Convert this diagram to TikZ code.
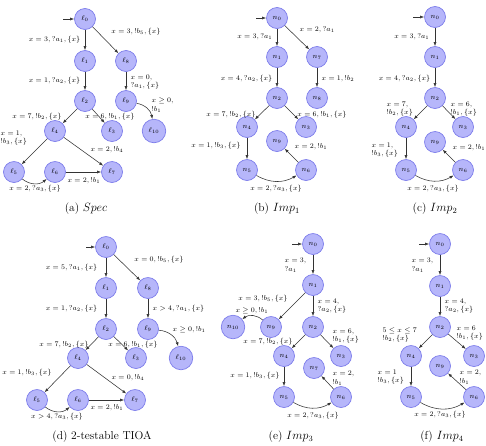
\documentclass[tikz,border=0pt]{standalone}
\usepackage{amssymb}
\usetikzlibrary{arrows.meta}
\begin{document}
\begin{tikzpicture}[x=1pt,y=-1pt,
  st/.style={circle, draw={rgb,255:red,125;green,125;blue,235}, fill={rgb,255:red,182;green,182;blue,250}, line width=0.7pt, minimum size=21pt, inner sep=0.5pt, font=\scriptsize},
  wide/.style={minimum size=23.5pt},
  tr/.style={-{Latex[length=4pt,width=3pt]}, line width=0.55pt, draw=black!80},
  lb/.style={font=\fontsize{7.5}{8.5}\selectfont, inner sep=0.5pt, align=left},
  captxt/.style={font=\fontsize{11.5}{13}\selectfont, inner sep=0pt}]
\useasboundingbox (0,0) rectangle (486,445);

% ---------- (a) Spec ----------
\node[st] (a0) at (85,19) {$\ell_0$};
\node[st] (a1) at (85,61) {$\ell_1$};
\node[st] (a8) at (126,61) {$\ell_8$};
\node[st] (a2) at (85,101) {$\ell_2$};
\node[st] (a9) at (126,101) {$\ell_9$};
\node[st] (a4) at (55,131) {$\ell_4$};
\node[st] (a3) at (112,131) {$\ell_3$};
\node[st, wide] (a10) at (154,131) {$\ell_{10}$};
\node[st] (a5) at (14,172) {$\ell_5$};
\node[st] (a6) at (55,172) {$\ell_6$};
\node[st] (a7) at (112,172) {$\ell_7$};
\coordinate (ai) at (63,19);
\draw[tr] (ai) -- (a0);
\draw[tr] (a0) -- (a1);
\draw[tr] (a0) -- (a8);
\draw[tr] (a1) -- (a2);
\draw[tr] (a8) -- (a9);
\draw[tr] (a9) to[bend left=35] (a10);
\draw[tr] (a2) -- (a4);
\draw[tr] (a2) -- (a3);
\draw[tr] (a4) -- (a5);
\draw[tr] (a4) -- (a7);
\draw[tr] (a5) to[bend right=40] (a6);
\draw[tr] (a6) -- (a7);
\node[lb, anchor=east] (la01) at (81,40) {$x=3,?a_1,\{x\}$};
\node[lb] (la08) at (136,32) {$x=3,!b_5,\{x\}$};
\node[lb, anchor=east] (la12) at (81,81) {$x=1,?a_2,\{x\}$};
\node[lb, anchor=west] (la89) at (130,82) {$x=0,$\\$?a_1,\{x\}$};
\node[lb, anchor=west] (la910) at (151,105) {$x\geq 0,$\\$!b_1$};
\node[lb] (la24) at (37,117) {$x=7,!b_2,\{x\}$};
\node[lb] (la23) at (110,117) {$x=6,!b_1,\{x\}$};
\node[lb, anchor=west] (la45) at (0,138) {$x=1,$\\$!b_3,\{x\}$};
\node[lb] (la47) at (107,150) {$x=2,!b_4$};
\node[lb] (la56) at (35,189) {$x=2,?a_3,\{x\}$};
\node[lb] (la67) at (84,181) {$x=2,!b_1$};
\node[captxt] (capa) at (86,209) {(a) $Spec$};

% ---------- (b) Imp1 ----------
\node[st] (b0) at (277,18) {$n_0$};
\node[st] (b1) at (277,57) {$n_1$};
\node[st] (b7) at (317,57) {$n_7$};
\node[st] (b2) at (277,98) {$n_2$};
\node[st] (b8) at (317,98) {$n_8$};
\node[st] (b4) at (247,127) {$n_4$};
\node[st] (b3) at (306,127) {$n_3$};
\node[st] (b9) at (277,141) {$n_9$};
\node[st] (b5) at (247,170) {$n_5$};
\node[st] (b6) at (306,170) {$n_6$};
\coordinate (bi) at (256,18);
\draw[tr] (bi) -- (b0);
\draw[tr] (b0) -- (b1);
\draw[tr] (b0) -- (b7);
\draw[tr] (b1) -- (b2);
\draw[tr] (b7) -- (b8);
\draw[tr] (b2) -- (b4);
\draw[tr] (b2) -- (b3);
\draw[tr] (b4) -- (b5);
\draw[tr] (b5) to[bend right=30] (b6);
\draw[tr] (b6) -- (b9);
\node[lb, anchor=east] (lb01) at (273,37) {$x=3,?a_1$};
\node[lb, anchor=west] (lb07) at (299,30) {$x=2,?a_1$};
\node[lb, anchor=east] (lb12) at (273,79) {$x=4,?a_2,\{x\}$};
\node[lb, anchor=west] (lb78) at (321,79) {$x=1,!b_2$};
\node[lb] (lb24) at (231,115) {$x=7,!b_2,\{x\}$};
\node[lb] (lb23) at (322,115) {$x=6,!b_1,\{x\}$};
\node[lb] (lb45) at (216,146) {$x=1,!b_3,\{x\}$};
\node[lb, anchor=west] (lb69) at (294,147) {$x=2,!b_1$};
\node[lb] (lb56) at (276,189) {$x=2,?a_3,\{x\}$};
\node[captxt] (capb) at (277,209) {(b) $Imp_1$};

% ---------- (c) Imp2 ----------
\node[st] (c0) at (435,17) {$n_0$};
\node[st] (c1) at (435,57) {$n_1$};
\node[st] (c2) at (435,98) {$n_2$};
\node[st] (c4) at (406,127) {$n_4$};
\node[st] (c3) at (463,127) {$n_3$};
\node[st] (c9) at (435,142) {$n_9$};
\node[st] (c5) at (406,170) {$n_5$};
\node[st] (c6) at (463,170) {$n_6$};
\coordinate (ci) at (413,17);
\draw[tr] (ci) -- (c0);
\draw[tr] (c0) -- (c1);
\draw[tr] (c1) -- (c2);
\draw[tr] (c2) -- (c4);
\draw[tr] (c2) -- (c3);
\draw[tr] (c4) -- (c5);
\draw[tr] (c5) to[bend right=30] (c6);
\draw[tr] (c6) -- (c9);
\node[lb, anchor=east] (lc01) at (430,37) {$x=3,?a_1$};
\node[lb, anchor=east] (lc12) at (431,79) {$x=4,?a_2,\{x\}$};
\node[lb, anchor=west] (lc24) at (386,109) {$x=7,$\\$!b_2,\{x\}$};
\node[lb, anchor=west] (lc23) at (450,109) {$x=6,$\\$!b_1,\{x\}$};
\node[lb, anchor=west] (lc45) at (371,150) {$x=1,$\\$!b_3,\{x\}$};
\node[lb, anchor=west] (lc69) at (452,148) {$x=2,!b_1$};
\node[lb] (lc56) at (433,189) {$x=2,?a_3,\{x\}$};
\node[captxt] (capc) at (435,209) {(c) $Imp_2$};

% ---------- (d) 2-testable TIOA ----------
\node[st] (d0) at (106,247) {$\ell_0$};
\node[st] (d1) at (106,288) {$\ell_1$};
\node[st] (d8) at (148,288) {$\ell_8$};
\node[st] (d2) at (106,329) {$\ell_2$};
\node[st] (d9) at (148,329) {$\ell_9$};
\node[st] (d4) at (78,358) {$\ell_4$};
\node[st] (d3) at (136,358) {$\ell_3$};
\node[st, wide] (d10) at (181,358) {$\ell_{10}$};
\node[st] (d5) at (37,400) {$\ell_5$};
\node[st] (d6) at (78,400) {$\ell_6$};
\node[st] (d7) at (135,400) {$\ell_7$};
\coordinate (di) at (86,247);
\draw[tr] (di) -- (d0);
\draw[tr] (d0) -- (d1);
\draw[tr] (d0) -- (d8);
\draw[tr] (d1) -- (d2);
\draw[tr] (d8) -- (d9);
\draw[tr] (d9) to[bend left=35] (d10);
\draw[tr] (d2) -- (d4);
\draw[tr] (d2) -- (d3);
\draw[tr] (d4) -- (d5);
\draw[tr] (d4) -- (d7);
\draw[tr] (d5) to[bend right=40] (d6);
\draw[tr] (d6) -- (d7);
\node[lb, anchor=east] (ld01) at (98,268) {$x=5,?a_1,\{x\}$};
\node[lb] (ld08) at (159,260) {$x=0,!b_5,\{x\}$};
\node[lb, anchor=east] (ld12) at (98,309) {$x=1,?a_2,\{x\}$};
\node[lb, anchor=west] (ld89) at (152,309) {$x>4,?a_1,\{x\}$};
\node[lb, anchor=west] (ld910) at (172,330) {$x\geq 0,!b_1$};
\node[lb] (ld24) at (64,345) {$x=7,!b_2,\{x\}$};
\node[lb] (ld23) at (133,345) {$x=6,!b_1,\{x\}$};
\node[lb] (ld45) at (27,373) {$x=1,!b_3,\{x\}$};
\node[lb] (ld47) at (128,378) {$x=0,!b_4$};
\node[lb] (ld56) at (57,417) {$x>4,?a_3,\{x\}$};
\node[lb] (ld67) at (107,408) {$x=2,!b_1$};
\node[captxt] (capd) at (102,437) {(d) 2-testable TIOA};

% ---------- (e) Imp3 ----------
\node[st] (e0) at (313,244) {$n_0$};
\node[st] (e1) at (313,285) {$n_1$};
\node[st] (e2) at (313,327) {$n_2$};
\node[st] (e9) at (271,327) {$n_9$};
\node[st, wide] (e10) at (233,327) {$n_{10}$};
\node[st] (e4) at (284,356) {$n_4$};
\node[st] (e3) at (341,356) {$n_3$};
\node[st] (e7) at (314,368) {$n_7$};
\node[st] (e5) at (284,397) {$n_5$};
\node[st] (e6) at (341,397) {$n_6$};
\coordinate (ei) at (292,244);
\draw[tr] (ei) -- (e0);
\draw[tr] (e0) -- (e1);
\draw[tr] (e1) -- (e9);
\draw[tr] (e1) -- (e2);
\draw[tr] (e9) to[bend right=40] (e10);
\draw[tr] (e2) -- (e4);
\draw[tr] (e2) -- (e3);
\draw[tr] (e4) -- (e5);
\draw[tr] (e5) to[bend right=30] (e6);
\draw[tr] (e6) -- (e7);
\node[lb, anchor=west] (le01) at (284,265) {$x=3,$\\$?a_1$};
\node[lb] (le19) at (263,299) {$x=3,!b_5,\{x\}$};
\node[lb] (le910) at (252,311) {$x\geq 0,!b_1$};
\node[lb, anchor=west] (le12) at (317,306) {$x=4,$\\$?a_2,\{x\}$};
\node[lb, anchor=west] (le23) at (332,336) {$x=6,$\\$!b_1,\{x\}$};
\node[lb] (le24) at (268,342) {$x=7,!b_2,\{x\}$};
\node[lb] (le45) at (255,376) {$x=1,!b_3,\{x\}$};
\node[lb, anchor=west] (le67) at (332,378) {$x=2,$\\$!b_1$};
\node[lb] (le56) at (313,416) {$x=2,?a_3,\{x\}$};
\node[captxt] (cape) at (291,437) {(e) $Imp_3$};

% ---------- (f) Imp4 ----------
\node[st] (f0) at (440,244) {$n_0$};
\node[st] (f1) at (440,286) {$n_1$};
\node[st] (f2) at (440,327) {$n_2$};
\node[st] (f4) at (411,356) {$n_4$};
\node[st] (f3) at (474,356) {$n_3$};
\node[st] (f9) at (440,366) {$n_9$};
\node[st] (f5) at (411,397) {$n_5$};
\node[st] (f6) at (474,397) {$n_6$};
\coordinate (fi) at (419,244);
\draw[tr] (fi) -- (f0);
\draw[tr] (f0) -- (f1);
\draw[tr] (f1) -- (f2);
\draw[tr] (f2) -- (f4);
\draw[tr] (f2) -- (f3);
\draw[tr] (f4) -- (f5);
\draw[tr] (f5) to[bend right=30] (f6);
\draw[tr] (f6) -- (f9);
\node[lb, anchor=west] (lf01) at (411,265) {$x=3,$\\$?a_1$};
\node[lb, anchor=west] (lf12) at (444,306) {$x=4,$\\$?a_2,\{x\}$};
\node[lb, anchor=west] (lf24) at (382,335) {$5\leq x\leq 7$\\$!b_2,\{x\}$};
\node[lb, anchor=west] (lf23) at (456,333) {$x=6$\\$!b_1,\{x\}$};
\node[lb, anchor=west] (lf45) at (377,377) {$x=1$\\$!b_3,\{x\}$};
\node[lb, anchor=west] (lf69) at (459,377) {$x=2,$\\$!b_1$};
\node[lb] (lf56) at (440,415) {$x=2,?a_3,\{x\}$};
\node[captxt] (capf) at (442,437) {(f) $Imp_4$};
\end{tikzpicture}
\end{document}
